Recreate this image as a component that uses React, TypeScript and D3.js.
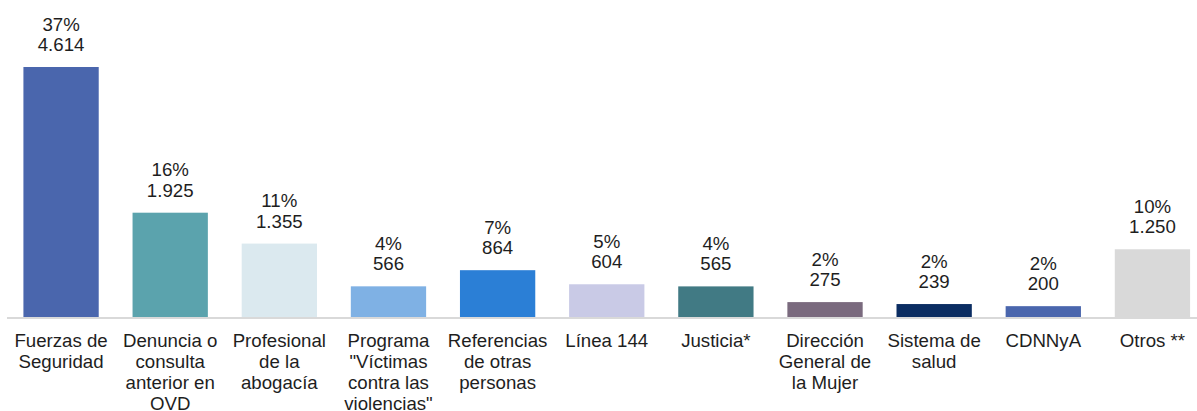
import React from 'react';
import * as d3 from 'd3';

const categories = [
    'Fuerzas de\nSeguridad',
    'Denuncia o\nconsulta\nanterior en\nOVD',
    'Profesional\nde la\nabogacía',
    'Programa\n"Víctimas\ncontra las\nviolencias"',
    'Referencias\nde otras\npersonas',
    'Línea 144',
    'Justicia*',
    'Dirección\nGeneral de\nla Mujer',
    'Sistema de\nsalud',
    'CDNNyA',
    'Otros **',
];
const values = [4614, 1925, 1355, 566, 864, 604, 565, 275, 239, 200, 1250];
const percents = [37, 16, 11, 4, 7, 5, 4, 2, 2, 2, 10];
const colors = [
    '#4a66ad', '#5ba3ad', '#dbe9ef', '#7fb1e4', '#2b7fd6', '#c9cae6',
    '#417a84', '#7a6a7e', '#0b2d62', '#4a66ad', '#d9d9d9',
];

const width = 1197;
const height = 411;
const baseY = 317;
const topY = 67;
const fontSize = 18.67;
const fontFamily = '"Liberation Sans", Arial, sans-serif';
const textColor = '#1e1e1e';

// numbers use '.' as thousands separator
const es = d3.formatLocale({ decimal: ',', thousands: '.', grouping: [3], currency: ['$', ''] });
const fmt = es.format(',');

export default function App() {
    const x = d3.scaleBand<number>()
        .domain(d3.range(categories.length))
        .range([6.5, 1207])
        .paddingInner(0.31)
        .paddingOuter(0.155);

    const y = d3.scaleLinear()
        .domain([0, d3.max(values) as number])
        .range([baseY, topY]);

    return (
        <svg width={width} height={height}
            style={{ position: 'absolute', left: 0, top: 0, background: '#fff' }}
            fontFamily={fontFamily}>
            {values.map((v, i) => {
                const bx = x(i) as number;
                const cx = bx + x.bandwidth() / 2;
                return (
                    <g key={i}>
                        <rect x={bx} y={y(v)} width={x.bandwidth()} height={baseY - y(v)} fill={colors[i]} />
                        <text x={cx} y={y(v) - 36.5} textAnchor="middle" fontSize={fontSize} fill={textColor}>
                            {percents[i] + '%'}
                        </text>
                        <text x={cx} y={y(v) - 16} textAnchor="middle" fontSize={fontSize} fill={textColor}>
                            {fmt(v)}
                        </text>
                    </g>
                );
            })}
            <line x1={7} x2={width} y1={baseY + 1} y2={baseY + 1} stroke="#d9d9d9" strokeWidth={2} />
            {categories.map((c, i) => {
                const cx = (x(i) as number) + x.bandwidth() / 2;
                return (
                    <text key={i} x={cx} y={347} textAnchor="middle" fontSize={fontSize} fill={textColor}>
                        {c.split('\n').map((line, j) => (
                            <tspan key={j} x={cx} dy={j === 0 ? 0 : 21}>{line}</tspan>
                        ))}
                    </text>
                );
            })}
        </svg>
    );
}
